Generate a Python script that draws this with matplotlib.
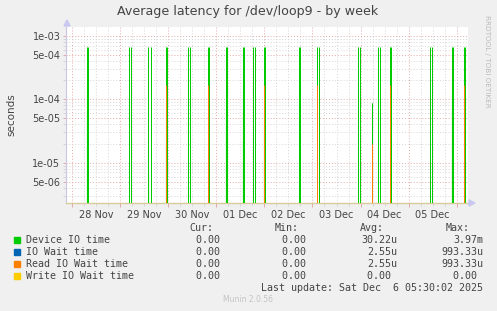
import matplotlib
matplotlib.use('Agg')
import matplotlib.pyplot as plt
import matplotlib.dates as mdates
from matplotlib.ticker import LogLocator, FuncFormatter, NullFormatter
from matplotlib.patches import Rectangle
from datetime import datetime, timedelta

# spikes of "Device IO time": start, duration (minutes), peak (seconds)
device_times = ['2025-11-28 07:22', '2025-11-29 04:37', '2025-11-29 14:06', '2025-11-29 22:47',
                '2025-11-30 10:03', '2025-11-30 20:02', '2025-12-01 04:43', '2025-12-01 13:12',
                '2025-12-01 18:29', '2025-12-01 23:41', '2025-12-02 17:17', '2025-12-03 02:25',
                '2025-12-03 22:53', '2025-12-04 05:34', '2025-12-04 08:51', '2025-12-04 14:42',
                '2025-12-05 10:39', '2025-12-05 21:29', '2025-12-06 03:46']
device_durations = [50, 50, 80, 30, 50, 30, 40, 40, 50, 30, 40, 40, 60, 20, 40, 40, 60, 40, 30]
device_peaks = [6.7e-4, 6.7e-4, 6.7e-4, 6.7e-4, 6.7e-4, 6.7e-4, 6.7e-4, 6.7e-4, 6.7e-4, 6.7e-4,
                6.7e-4, 6.7e-4, 6.7e-4, 8.7e-5, 6.7e-4, 6.7e-4, 6.7e-4, 6.7e-4, 6.7e-4]

# spikes of "Read IO Wait time" (IO Wait time has the same values)
read_times = ['2025-11-29 22:47', '2025-11-30 20:02', '2025-12-01 23:41', '2025-12-03 02:25',
              '2025-12-04 05:34', '2025-12-04 14:42', '2025-12-06 03:46']
read_peaks = [1.67e-4, 1.67e-4, 1.67e-4, 1.67e-4, 2.0e-5, 1.67e-4, 1.67e-4]

legend_names = ['Device IO time', 'IO Wait time', 'Read IO Wait time', 'Write IO Wait time']
legend_colors = ['#00cc00', '#0066b3', '#ff8000', '#ffcc00']
cur_vals = ['0.00 ', '0.00 ', '0.00 ', '0.00 ']
min_vals = ['0.00 ', '0.00 ', '0.00 ', '0.00 ']
avg_vals = ['30.22u', '2.55u', '2.55u', '0.00 ']
max_vals = ['3.97m', '993.33u', '993.33u', '0.00 ']

FLOOR = 1e-9
x_start = datetime(2025, 11, 27, 21, 0)
x_end = datetime(2025, 12, 6, 5, 22)

W, H = 497, 311
fig = plt.figure(figsize=(W / 100, H / 100), dpi=100)
fig.patch.set_facecolor('#f0f0f0')
ax = fig.add_axes([66 / W, 1 - 202.7 / H, (467.5 - 66) / W, (202.7 - 27.3) / H])
ax.set_facecolor('white')

ax.set_yscale('log')
ax.set_ylim(2.33e-6, 1.37e-3)
ax.set_xlim(x_start, x_end)

major_c = '#e4a8a8'
minor_c = '#d6d6d6'
ax.yaxis.set_major_locator(LogLocator(base=10, subs=(1.0, 5.0)))
ax.yaxis.set_minor_locator(LogLocator(base=10, subs=(2, 3, 4, 6, 7, 8, 9)))
ax.yaxis.set_major_formatter(FuncFormatter(lambda v, p: '%.0e' % v))
ax.yaxis.set_minor_formatter(NullFormatter())

ax.xaxis.set_major_locator(mdates.DayLocator())
ax.xaxis.set_major_formatter(NullFormatter())
ax.xaxis.set_minor_locator(mdates.HourLocator(byhour=[0, 6, 12, 18]))
ax.xaxis.set_minor_formatter(FuncFormatter(
    lambda v, p: mdates.num2date(v).strftime('%d %b') if mdates.num2date(v).hour == 12 else ''))

ax.grid(which='major', color=major_c, linestyle=(0, (1, 2)), linewidth=0.7)
ax.grid(which='minor', color=minor_c, linestyle=(0, (1, 2)), linewidth=0.7)
ax.set_axisbelow(True)

ax.tick_params(axis='both', which='major', length=2, width=0.7, color=major_c,
               labelsize=7, labelcolor='#444444', pad=2)
ax.tick_params(axis='both', which='minor', length=2, width=0.7, color=minor_c,
               labelsize=7, labelcolor='#444444', pad=3)
ax.tick_params(axis='x', which='major', length=3)

for s in ['top', 'right']:
    ax.spines[s].set_visible(False)
ax.spines['left'].set_color('#c8c8e6')
ax.spines['left'].set_linewidth(0.8)
ax.spines['bottom'].set_color('#d8cc9c')
ax.spines['bottom'].set_linewidth(1.0)

# Device IO time: rise at start, fall at end of each spike
t0 = [datetime.strptime(t, '%Y-%m-%d %H:%M') for t in device_times]
t1 = [a + timedelta(minutes=d) for a, d in zip(t0, device_durations)]
for a, b, p in zip(t0, t1, device_peaks):
    ax.fill_between([a, b], FLOOR, [p * 0.35, FLOOR], color='#00cc00', alpha=0.3, linewidth=0)
ax.vlines(t0, FLOOR, device_peaks, color='#00cc00', linewidth=0.72, zorder=3)
ax.vlines(t1, FLOOR, device_peaks, color='#00cc00', linewidth=0.72, zorder=3)

# IO Wait and Read IO Wait (same values, orange drawn over blue)
rt = [datetime.strptime(t, '%Y-%m-%d %H:%M') for t in read_times]
ax.vlines(rt, FLOOR, read_peaks, color='#0066b3', linewidth=0.72, zorder=4)
ax.vlines(rt, FLOOR, read_peaks, color='#ff8000', linewidth=0.72, zorder=5)

# axis arrows
fig.patches.append(plt.Polygon([(64 / W, 1 - 26 / H), (70 / W, 1 - 26 / H), (67 / W, 1 - 20 / H)],
                               closed=True, transform=fig.transFigure, color='#c8c8f0'))
fig.patches.append(plt.Polygon([(469 / W, 1 - 200 / H), (469 / W, 1 - 206 / H), (475 / W, 1 - 203 / H)],
                               closed=True, transform=fig.transFigure, color='#c8c8f0'))

fig.text(248 / W, 1 - 12 / H, 'Average latency for /dev/loop9 - by week',
         ha='center', va='center', fontsize=9.1, color='#444444')
fig.text(11 / W, 1 - 114.5 / H, 'seconds', rotation=90, ha='center', va='center',
         fontsize=7.5, color='#444444')
fig.text(487 / W, 1 - 15 / H, 'RRDTOOL / TOBI OETIKER', rotation=270, ha='center', va='top',
         fontsize=5.2, color='#bbbbbb')

# legend table
mono = 'DejaVu Sans Mono'
fs = 7.2


def fy(y):
    return 1 - y / H


for hdr, xr in zip(['Cur:', 'Min:', 'Avg:', 'Max:'], [213, 299, 384, 470]):
    fig.text(xr / W, fy(227.7), hdr, ha='right', va='center', family=mono, fontsize=fs, color='#444444')

row_y = [239.7, 251.7, 263.7, 275.7]
for i, name in enumerate(legend_names):
    y = row_y[i]
    fig.patches.append(Rectangle((14 / W, fy(y + 3)), 6 / W, 6 / H, transform=fig.transFigure,
                                 color=legend_colors[i]))
    fig.text(26 / W, fy(y), name, ha='left', va='center', family=mono, fontsize=fs, color='#444444')
    for vals, xr in zip([cur_vals, min_vals, avg_vals, max_vals], [226, 312, 397, 483]):
        fig.text(xr / W, fy(y), vals[i], ha='right', va='center', family=mono, fontsize=fs, color='#444444')

fig.text(483 / W, fy(287.7), 'Last update: Sat Dec  6 05:30:02 2025', ha='right', va='center',
         family=mono, fontsize=fs, color='#444444')
fig.text(248 / W, fy(300), 'Munin 2.0.56', ha='center', va='center', fontsize=5.5, color='#c4c4c4')

fig.savefig('out.png', dpi=100, facecolor=fig.get_facecolor())
